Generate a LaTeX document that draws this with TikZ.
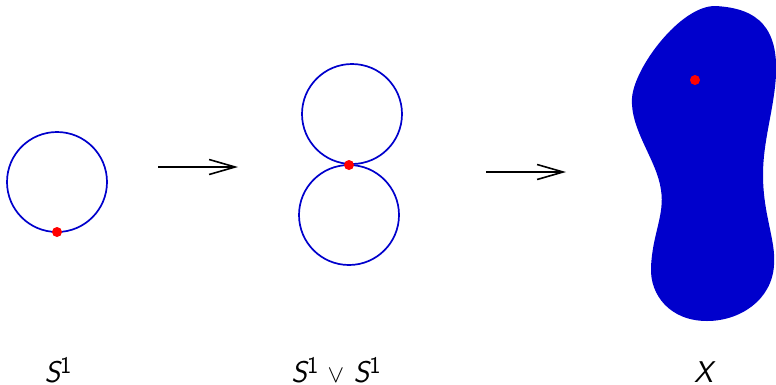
\documentclass[tikz,border=0pt]{standalone}
\usepackage{amsmath,amssymb}
\usepackage{fontspec}
\usepackage{tikz}
\usetikzlibrary{arrows.meta,positioning}
\definecolor{SpaceBlue}{RGB}{0,0,204}
\definecolor{BaseRed}{RGB}{255,0,0}
\newcommand{\sphere}{{\itshape S}\raisebox{9pt}{\fontsize{24}{24}\selectfont 1}}

\begin{document}
\begin{tikzpicture}[
        x=1pt,y=-1pt,
        loopline/.style={draw=SpaceBlue,line width=1.7pt},
        basept/.style={circle,fill=BaseRed,inner sep=0pt,minimum size=10pt},
        maparr/.style={-{Straight Barb[length=26pt,width=15pt,line width=1.6pt]},line width=1.7pt},
        lbl/.style={font=\fontsize{30}{34}\selectfont\sffamily,anchor=base,inner sep=0pt}
      ]
        \useasboundingbox (0,0) rectangle (776,384);
        % the circle
        \draw[loopline] (57,182) circle[radius=50];
        \node[basept] (p1) at (57,232) {};
        % the wedge of two circles
        \draw[loopline] (352,114) circle[radius=50];
        \draw[loopline] (349,215) circle[radius=50];
        \node[basept] (p2) at (349,165) {};
        % the space X
        \fill[SpaceBlue] (715,6) .. controls (760,8) and (778,30) .. (776,75)
          .. controls (774,110) and (763,140) .. (763,175)
          .. controls (763,215) and (776,240) .. (774,265)
          .. controls (772,300) and (740,321) .. (707,321)
          .. controls (670,321) and (650,295) .. (651,268)
          .. controls (652,235) and (665,215) .. (661,190)
          .. controls (657,160) and (630,130) .. (632,98)
          .. controls (634,68) and (680,6) .. (715,6) -- cycle;
        \node[basept] (p3) at (695,80) {};
        % maps
        \coordinate (a1) at (158,167);
        \coordinate (b1) at (238,167);
        \coordinate (a2) at (486,172);
        \coordinate (b2) at (566,172);
        \draw[maparr] (a1) -- (b1);
        \draw[maparr] (a2) -- (b2);
        % labels
        \node[lbl] (l1) at (58,382) {\sphere};
        \node[lbl] (l2) at (336,382) {\sphere\ $\vee$ \sphere};
        \node[lbl] (l3) at (705,382) {\textit{X}};
      \end{tikzpicture}
\end{document}
